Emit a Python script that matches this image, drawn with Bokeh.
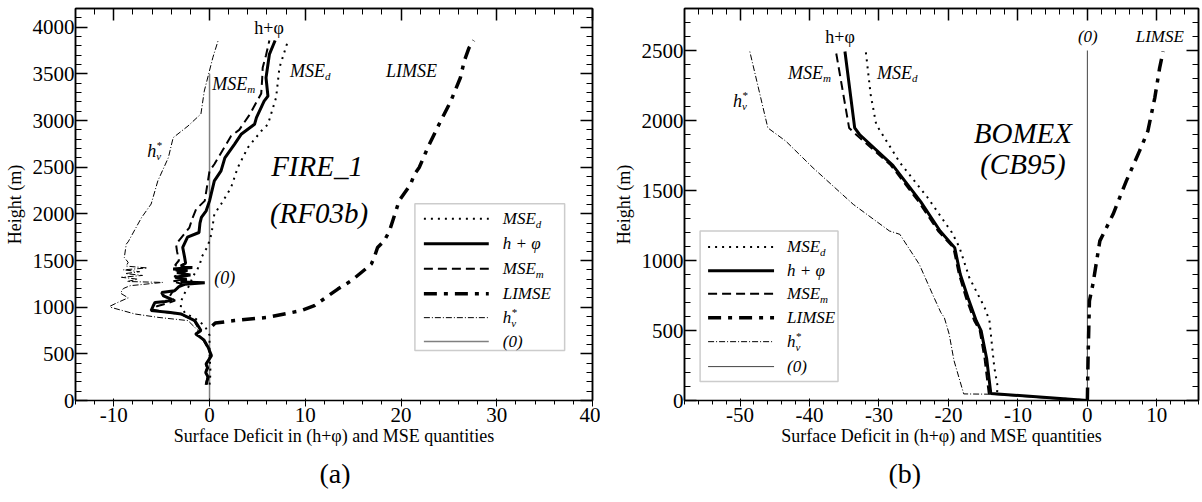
from bokeh.plotting import figure
from bokeh.layouts import row
from bokeh.models import LinearAxis, SingleIntervalTicker, Range1d, BoxAnnotation, PrintfTickFormatter
from bokeh.core.properties import value
from bokeh.embed import file_html
from bokeh.resources import INLINE

SERIF = "Liberation Serif"

# ---------------- Panel (a): FIRE_1 (RF03b) ----------------
a_hphi_x = [-0.35, -0.15, -0.4, -0.2, -0.35, 0.2, -0.15, -0.6, -1.4, -0.9, -1.2, -1.55, -2.95, -4.3, -6.1, -5.9,
            -5.7, -4.6, -3.9, -4.8, -5.0, -3.65, -3.2, -2.6, -0.5, -3.0, -2.4, -3.6, -2.0, -3.4, -2.3, -3.8,
            -1.8, -3.0, -2.5, -2.6, -2.8, -2.3, -1.1, -1.0, -0.85, -0.35, 0.0, 0.5, 1.2, 1.6, 2.6, 3.3, 4.7,
            4.9, 5.7, 6.1, 5.9, 6.1, 6.25, 6.85]
a_hphi_h = [170, 250, 300, 350, 392, 481, 570, 650, 713, 749, 800, 856, 927, 945, 963, 1010,
            1051, 1060, 1080, 1120, 1158, 1176, 1220, 1245, 1262, 1270, 1300, 1320, 1345, 1370, 1395, 1410,
            1425, 1440, 1470, 1533, 1640, 1750, 1800, 1900, 1961, 2032, 2139, 2353, 2460, 2600, 2745, 2852, 2959,
            3030, 3208, 3262, 3458, 3600, 3708, 3857]

a_msem_x = [-0.4, -0.2, -0.45, -0.25, -0.4, 0.15, -0.2, -0.65, -1.5, -1.0, -1.3, -1.6, -3.0, -4.5, -6.0, -5.5,
            -4.5, -3.6, -4.2, -3.9, -3.3, -2.9, -3.9, -2.7, -3.7, -2.5, -3.5, -2.8, -3.6, -3.2, -3.4, -3.5,
            -2.1, -1.8, -1.4, -0.5, 0.0, 0.5, 2.25, 3.1, 4.2, 5.4, 5.5, 5.55, 5.9, 6.25]
a_msem_h = [170, 250, 300, 350, 392, 481, 570, 650, 713, 749, 800, 856, 927, 945, 975, 1010,
            1040, 1070, 1110, 1160, 1210, 1250, 1275, 1300, 1330, 1360, 1390, 1420, 1450, 1500, 1600, 1675,
            1853, 1950, 2050, 2139, 2460, 2531, 2834, 2900, 3065, 3290, 3450, 3565, 3700, 3857]

a_msed_x = [0.0, 0.1, 0.0, 0.0, -0.5, -1.5, -2.5, -3.0, -2.95, -2.6, -2.0, -1.8, -1.3, -1.0, -0.85, -0.2,
            0.2, 0.5, 1.2, 2.25, 2.95, 4.0, 5.4, 6.1, 6.95, 7.3, 8.2]
a_msed_h = [170, 300, 500, 700, 800, 880, 930, 1000, 1070, 1150, 1250, 1320, 1400, 1460, 1533, 1650,
            1782, 1996, 2103, 2282, 2496, 2710, 2887, 2959, 3244, 3565, 3857]

a_hv_x = [-1.3, -1.2, -2.25, -5.4, -7.8, -10.3, -10.4, -9.6, -8.5, -9.3, -9.0, -8.3, -4.9, -8.6, -7.5, -9.2,
          -7.0, -8.8, -7.3, -9.0, -6.5, -8.7, -8.5, -8.9, -8.7, -8.5, -7.1, -6.1, -5.4, -4.3, -3.8, -2.25,
          -0.9, -0.55, 0.35, 0.9]
a_hv_h = [700, 749, 856, 891, 927, 998, 1010, 1050, 1100, 1150, 1200, 1230, 1265, 1275, 1300, 1320,
          1340, 1360, 1380, 1400, 1420, 1440, 1480, 1533, 1675, 1700, 1960, 2105, 2353, 2602, 2816, 2941,
          3070, 3315, 3676, 3857]

a_limse_x = [0.3, 0.6, 2.6, 6.1, 9.55, 10.95, 13.4, 14.8, 16.5, 16.9, 17.2, 17.55, 18.25, 18.8, 19.8, 21.0,
             21.4, 21.9, 22.8, 23.8, 25.2, 26.2, 26.6, 27.1, 27.6]
a_limse_h = [800, 830, 856, 891, 963, 1016, 1194, 1283, 1426, 1462, 1533, 1640, 1711, 1818, 2139, 2317,
             2424, 2496, 2710, 2924, 3208, 3458, 3636, 3778, 3857]

a_zero_x = [0, 0]
a_zero_h = [0, 3500]

# ---------------- Panel (b): BOMEX (CB95) ----------------
b_hphi_x = [0, -13.9, -14.5, -15.3, -16.0, -17.2, -18.3, -19.1, -21.2, -24.0, -28.0, -32.8, -33.5, -34.9]
b_hphi_h = [0, 50, 300, 499, 570, 736, 902, 1092, 1211, 1420, 1680, 1900, 1947, 2493]

b_msem_x = [0, -14.2, -14.8, -15.5, -16.3, -17.5, -18.5, -19.3, -21.5, -24.3, -28.3, -33.3, -34.3, -36.2]
b_msem_h = [0, 50, 300, 499, 570, 736, 902, 1092, 1211, 1420, 1680, 1900, 1947, 2493]

b_msed_x = [-13.0, -12.9, -13.4, -14.1, -14.8, -17.0, -18.4, -19.5, -23.0, -27.0, -29.5, -30.4, -31.2, -31.9]
b_msed_h = [60, 95, 237, 570, 665, 878, 1092, 1200, 1450, 1700, 1900, 1971, 2185, 2493]

b_hv_x = [-14.0, -17.8, -18.5, -19.2, -19.9, -20.6, -21.1, -22.3, -24.2, -27.0, -28.5, -33.7, -39.5, -43.4, -46.0, -48.6]
b_hv_h = [45, 47, 166, 285, 475, 593, 629, 760, 973, 1187, 1211, 1401, 1662, 1852, 1947, 2493]

b_limse_x = [0, 0.1, 0.3, 0.8, 1.8, 3.7, 5.6, 7.5, 8.7, 9.7, 10.4, 10.9]
b_limse_h = [0, 300, 712, 831, 1140, 1330, 1567, 1781, 1923, 2160, 2374, 2493]

b_zero_x = [0, 0]
b_zero_h = [0, 2500]

XTITLE = "Surface Deficit in (h+\u03c6) and MSE quantities"

STY = {
    "msed": dict(line_color="black", line_width=2, line_dash="2 5"),
    "hphi": dict(line_color="black", line_width=3),
    "msem": dict(line_color="black", line_width=2, line_dash="9 5"),
    "limse": dict(line_color="black", line_width=3.5, line_dash="13 7 4 7"),
    "hv": dict(line_color="black", line_width=1, line_dash="6 2 1 2"),
}


def make_panel(xr, yr, left_border, frame_w, right_border, ytick, title, title_off):
    p = figure(frame_width=frame_w, frame_height=392, x_range=Range1d(*xr), y_range=Range1d(*yr),
               output_backend="svg", toolbar_location=None, min_border_left=left_border,
               min_border_right=right_border, min_border_top=8, min_border_bottom=20,
               background_fill_color="white", border_fill_color="white", title=title,
               title_location="below")
    p.title.text_font = SERIF
    p.title.text_font_size = "28px"
    p.title.text_font_style = "normal"
    p.title.text_color = "black"
    p.title.align = "left"
    p.title.offset = title_off
    p.title.standoff = 15
    p.grid.visible = False
    p.outline_line_color = "black"
    p.outline_line_width = 1.5
    xt = SingleIntervalTicker(interval=10, num_minor_ticks=5)
    yt = SingleIntervalTicker(interval=ytick, num_minor_ticks=5)
    p.xaxis.ticker = xt
    p.yaxis.ticker = yt
    p.xaxis.formatter = PrintfTickFormatter(format="%d")
    p.yaxis.formatter = PrintfTickFormatter(format="%d")
    for ax in [p.xaxis[0], p.yaxis[0]]:
        ax.major_label_text_font = SERIF
        ax.major_label_text_font_size = "21px"
        ax.major_label_text_color = "black"
        ax.axis_label_text_font = SERIF
        ax.axis_label_text_font_size = "18px"
        ax.axis_label_text_font_style = "normal"
        ax.axis_label_text_color = "black"
    p.xaxis.axis_label = XTITLE
    p.yaxis.axis_label = "Height (m)"
    p.xaxis.major_label_standoff = 1
    p.yaxis.major_label_standoff = 1
    p.xaxis.axis_label_standoff = 1
    p.yaxis.axis_label_standoff = 5
    extra = [LinearAxis(ticker=xt), LinearAxis(ticker=yt)]
    p.add_layout(extra[0], "above")
    p.add_layout(extra[1], "right")
    for ax in extra:
        ax.major_label_text_font_size = "1px"
        ax.major_label_text_color = None
        ax.major_label_standoff = 0
    for ax in [p.xaxis[0], p.yaxis[0]] + extra:
        ax.axis_line_color = "black"
        ax.axis_line_width = 1.5
        ax.major_tick_in = 12
        ax.major_tick_out = 0
        ax.minor_tick_in = 6
        ax.minor_tick_out = 0
        ax.major_tick_line_color = "black"
        ax.minor_tick_line_color = "black"
        ax.major_tick_line_width = 1.5
        ax.minor_tick_line_width = 1
    return p


def txt(p, x, y, s, size="17px", style="italic", align="left", xo=0, yo=0, baseline="middle"):
    p.text(x=[x], y=[y], text=[s], text_font=value(SERIF), text_font_size=size, text_font_style=style,
           text_align=align, text_baseline=baseline, x_offset=xo, y_offset=yo, text_color="black")


def sub_label(p, x, y, base, sub, size=17, sup=None):
    widths = {"MSE": 1.944, "h": 0.5}
    w = widths[base] * size
    txt(p, x, y, base, size=f"{size}px")
    txt(p, x, y, sub, size=f"{int(size*0.65)}px", xo=w, yo=5)
    if sup:
        txt(p, x, y, sup, size=f"{int(size*0.65)}px", xo=w, yo=-6)


keys = ["msed", "hphi", "msem", "limse", "hv"]


def legend(p, fx, fy, box, x0, x1, lx, rows, zero_color, zero_width):
    l, r, t, b = box
    p.add_layout(BoxAnnotation(left=fx(l), right=fx(r), top=fy(t), bottom=fy(b), fill_color="white",
                               fill_alpha=1, line_color="#555555", line_width=1.5, level="underlay"))
    for k, rr in zip(keys, rows):
        p.line([fx(x0), fx(x1)], [fy(rr), fy(rr)], **STY[k])
    p.line([fx(x0), fx(x1)], [fy(rows[5]), fy(rows[5])], line_color=zero_color, line_width=zero_width)
    sub_label(p, fx(lx), fy(rows[0]), "MSE", "d", size=17)
    txt(p, fx(lx), fy(rows[1]), "h + \u03c6", size="17px")
    sub_label(p, fx(lx), fy(rows[2]), "MSE", "m", size=17)
    txt(p, fx(lx), fy(rows[3]), "LIMSE", size="17px")
    sub_label(p, fx(lx), fy(rows[4]), "h", "v", size=17, sup="*")
    txt(p, fx(lx), fy(rows[5]), "(0)", size="17px")


# ---------- Panel a ----------
pa = make_panel((-14, 40), (0, 4200), 75, 517, 8, 500, "(a)", 244)
ax0, ax1, ay0, ay1 = 208.3, 9.59, 400.0, 0.0935


def ax(px):
    return (px - ax0) / ax1


def ay(py):
    return (ay0 - py) / ay1


pa.line(a_zero_x, a_zero_h, line_color="#808080", line_width=1.5)
pa.line(a_hv_x, a_hv_h, **STY["hv"])
pa.line(a_msed_x, a_msed_h, **STY["msed"])
pa.line(a_msem_x, a_msem_h, **STY["msem"])
pa.line(a_hphi_x, a_hphi_h, **STY["hphi"])
pa.line(a_limse_x, a_limse_h, **STY["limse"])

txt(pa, ax(268), ay(27), "h+\u03c6", size="18px", style="normal", align="center")
sub_label(pa, ax(289), ay(70), "MSE", "d", size=18)
sub_label(pa, ax(211), ay(83), "MSE", "m", size=18)
sub_label(pa, ax(146), ay(150), "h", "v", size=18, sup="*")
txt(pa, ax(385), ay(70), "LIMSE", size="18px")
txt(pa, ax(316), ay(165), "FIRE_1", size="29px", align="center")
txt(pa, ax(318), ay(212), "(RF03b)", size="29px", align="center")
txt(pa, ax(213), ay(277), "(0)", size="18px")

legend(pa, ax, ay, (414, 564, 203, 350), 423, 488, 502, [218, 243, 268, 293, 317, 341], "#808080", 1.5)

# ---------- Panel b ----------
pb = make_panel((-58, 16), (0, 2800), 84, 514, 4, 500, "(b)", 204)
bx0, bx1, by0, by1 = 1087.5, 6.95, 400.0, 0.1404


def bx(px):
    return (px - bx0) / bx1


def by(py):
    return (by0 - py) / by1


pb.line(b_zero_x, b_zero_h, line_color="#444444", line_width=1)
pb.line(b_hv_x, b_hv_h, **STY["hv"])
pb.line(b_msed_x, b_msed_h, **STY["msed"])
pb.line(b_msem_x, b_msem_h, **STY["msem"])
pb.line(b_hphi_x, b_hphi_h, **STY["hphi"])
pb.line(b_limse_x, b_limse_h, **STY["limse"])

txt(pb, bx(840), by(35), "h+\u03c6", size="18px", style="normal", align="center")
sub_label(pb, bx(788), by(72), "MSE", "m", size=18)
sub_label(pb, bx(877), by(72), "MSE", "d", size=18)
sub_label(pb, bx(733), by(100), "h", "v", size=18, sup="*")
txt(pb, bx(1088), by(35), "(0)", size="17px", align="center")
txt(pb, bx(1160), by(35), "LIMSE", size="17px", align="center")
txt(pb, bx(1023), by(132), "BOMEX", size="29px", align="center")
txt(pb, bx(1023), by(163), "(CB95)", size="29px", align="center")

legend(pb, bx, by, (700, 838, 230, 381), 708, 774, 787, [246, 270, 293, 317, 341, 366], "#444444", 1)

layout = row(pa, pb)
open("out.html", "w").write(file_html(layout, INLINE))
